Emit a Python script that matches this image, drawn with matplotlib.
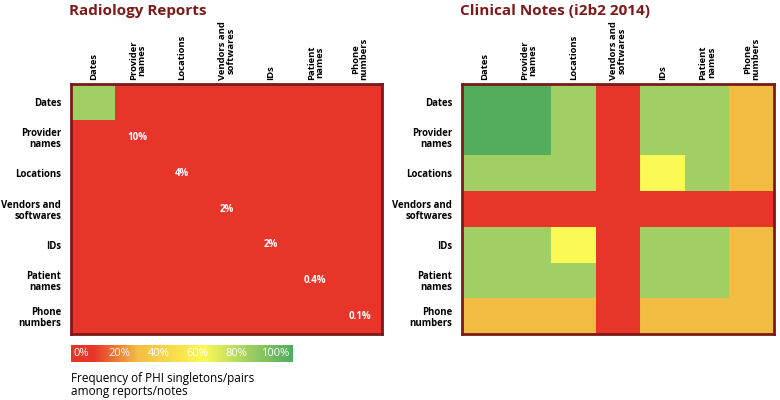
import numpy as np
import matplotlib
matplotlib.use("Agg")
import matplotlib.pyplot as plt
from matplotlib.colors import LinearSegmentedColormap

plt.rcParams['font.family'] = ['Open Sans', 'DejaVu Sans']

# PHI categories
cats = ["Dates", "Provider\nnames", "Locations", "Vendors and\nsoftwares",
        "IDs", "Patient\nnames", "Phone\nnumbers"]

# radiology reports: frequency (%) of singletons/pairs
radio = np.array([
    [80, 0, 0, 0, 0, 0, 0],
    [0, 0, 0, 0, 0, 0, 0],
    [0, 0, 0, 0, 0, 0, 0],
    [0, 0, 0, 0, 0, 0, 0],
    [0, 0, 0, 0, 0, 0, 0],
    [0, 0, 0, 0, 0, 0, 0],
    [0, 0, 0, 0, 0, 0, 0],
])
radio_diag = ["", "10%", "4%", "2%", "2%", "0.4%", "0.1%"]

# clinical notes (i2b2 2014)
notes = np.array([
    [100, 100, 80, 0, 80, 80, 30],
    [100, 100, 80, 0, 80, 80, 30],
    [80, 80, 80, 0, 60, 80, 30],
    [0, 0, 0, 0, 0, 0, 0],
    [80, 80, 60, 0, 80, 80, 30],
    [80, 80, 80, 0, 80, 80, 30],
    [30, 30, 30, 0, 30, 30, 30],
])

cbar_ticks = ["0%", "20%", "40%", "60%", "80%", "100%"]

cmap = LinearSegmentedColormap.from_list("phi", [
    (0.0, "#E8352A"), (0.1, "#E8352A"), (0.3, "#F3BE44"),
    (0.6, "#FBF955"), (0.8, "#A2CF63"), (1.0, "#52AD5D")])

dark = "#7B1A1A"

fig = plt.figure(figsize=(7.8, 4), dpi=100)


def panel(rect, data, title, diag=None):
    ax = fig.add_axes(rect)
    ax.imshow(data, cmap=cmap, vmin=0, vmax=100, aspect="auto",
              interpolation="nearest")
    ax.set_xticks(range(len(cats)))
    ax.set_xticklabels(cats, rotation=90, fontsize=6.8, fontweight="bold",
                       ha="center", va="bottom", linespacing=0.9)
    ax.set_yticks(range(len(cats)))
    ax.set_yticklabels(cats, fontsize=6.9, fontweight="bold", ha="right",
                       linespacing=1.0)
    ax.xaxis.tick_top()
    ax.tick_params(length=0)
    ax.tick_params(axis="y", pad=7)
    ax.tick_params(axis="x", pad=3)
    for s in ax.spines.values():
        s.set_color(dark)
        s.set_linewidth(2)
    if diag is not None:
        for i, t in enumerate(diag):
            if t:
                ax.text(i, i, t, color="white", fontsize=7,
                        fontweight="bold", ha="center", va="center")
    fig.text(rect[0] - 0.003, 0.99, title, color=dark, fontsize=11,
             fontweight="bold", ha="left", va="top")
    return ax


panel([71 / 780, 66 / 400, 311 / 780, 250 / 400], radio, "Radiology Reports",
      radio_diag)
panel([462 / 780, 66 / 400, 312 / 780, 250 / 400], notes,
      "Clinical Notes (i2b2 2014)")

# colour scale
cax = fig.add_axes([71 / 780, 38 / 400, 222 / 780, 17 / 400])
grad = np.linspace(0, 100, 300).reshape(1, -1)
cax.imshow(grad, cmap=cmap, vmin=0, vmax=100, aspect="auto",
           extent=[0, 100, 0, 1])
cax.set_axis_off()
for i, t in enumerate(cbar_ticks):
    cax.text(4.5 + i * 17.5, 0.5, t, color="white", fontsize=8,
             ha="center", va="center")

fig.text(71 / 780, 28 / 400,
         "Frequency of PHI singletons/pairs\namong reports/notes",
         fontsize=8.5, ha="left", va="top", linespacing=1.05)

fig.savefig("out.png", dpi=100)
